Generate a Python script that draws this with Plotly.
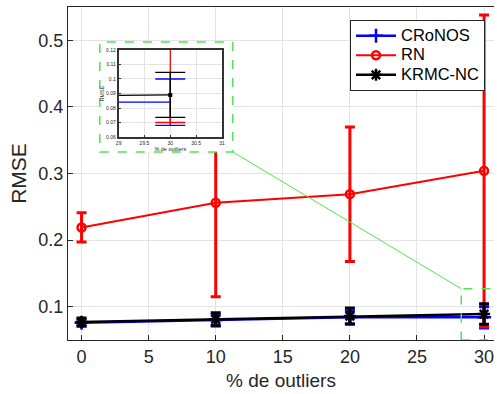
import plotly.graph_objects as go

# ---- data ----
outliers = [0, 10, 20, 30]
cronos = [0.076, 0.080, 0.084, 0.084]
cronos_err = [0.005, 0.008, 0.010, 0.016]
rn = [0.219, 0.256, 0.269, 0.304]
rn_err = [0.022, 0.141, 0.101, 0.234]
krmc = [0.077, 0.081, 0.086, 0.089]
krmc_err = [0.006, 0.010, 0.012, 0.0155]
names = ["CRoNOS", "RN", "KRMC-NC"]

x_ticks = [0, 5, 10, 15, 20, 25, 30]
y_ticks = [0.1, 0.2, 0.3, 0.4, 0.5]
inset_x_ticks = [29, 29.5, 30, 30.5, 31]
inset_y_ticks = [0.06, 0.07, 0.08, 0.09, 0.1, 0.11, 0.12]

# ---- style ----
X_RANGE = [-1.01, 30.74]
Y_RANGE = [0.05, 0.55]
INSET_X = [29, 31]
INSET_Y = [0.06, 0.12]
ZOOM_X = [28.3, 31.5]
ZOOM_Y = [0.05, 0.127]
BLUE, RED, BLACK = "#0000FF", "#FF0000", "#000000"
GREEN = "#4de64d"
FONT = "Liberation Sans, Arial, sans-serif"
TXT = "#262626"
GRID = "#e3e3e3"

COVER_DX = [0.0746, 0.3869]
COVER_DY = [0.5646, 0.8949]
INSET_DX = [0.1189, 0.3613]
INSET_DY = [0.6096, 0.8709]

fig = go.Figure()

series = [
    (names[0], cronos, cronos_err, BLUE, "cross-thin-open", 2.5, 10),
    (names[1], rn, rn_err, RED, "circle-open", 2, 8),
    (names[2], krmc, krmc_err, BLACK, "asterisk-open", 2.5, 10),
]

for name, y, e, c, sym, lw, ms in series:
    fig.add_trace(go.Scatter(
        x=outliers, y=y, name='<span style="font-size:16.5px">%s</span>' % name,
        mode="lines+markers",
        line=dict(color=c, width=lw),
        marker=dict(symbol=sym, size=ms, color=c, line=dict(color=c, width=2.5)),
        error_y=dict(type="data", array=e, visible=True, color=c, thickness=3, width=5),
        xaxis="x", yaxis="y",
    ))

# cover subplot (white area behind inset)
fig.add_trace(go.Scatter(x=[None], y=[None], xaxis="x2", yaxis="y2", showlegend=False, hoverinfo="skip"))

# inset traces
for name, y, e, c, sym, lw, ms in series:
    fig.add_trace(go.Scatter(
        x=outliers, y=y, name=name, mode="lines+markers", showlegend=False,
        line=dict(color=c, width=1.3),
        marker=dict(symbol="square" if c == BLACK else sym, size=4 if c == BLACK else 1, color=c),
        error_y=dict(type="data", array=e, visible=True, color=c, thickness=1.3, width=15),
        xaxis="x3", yaxis="y3", cliponaxis=True,
    ))

axis_common = dict(ticks="inside", tickcolor=TXT, showgrid=True, gridcolor=GRID, gridwidth=1,
                   zeroline=False, linecolor=TXT, showline=True)

fig.update_layout(
    width=497, height=394,
    margin=dict(l=68, r=0, t=7, b=54),
    paper_bgcolor="white", plot_bgcolor="white",
    font=dict(family=FONT, color=TXT, size=18),
    xaxis=dict(range=X_RANGE, tickvals=x_ticks, ticklen=5, mirror=True,
               title=dict(text="% de outliers", font=dict(size=19), standoff=8),
               tickfont=dict(size=18), **axis_common),
    yaxis=dict(range=Y_RANGE, tickvals=y_ticks, ticklen=5, mirror=False,
               title=dict(text="RMSE", font=dict(size=21), standoff=6),
               tickfont=dict(size=18), **axis_common),
    xaxis2=dict(domain=COVER_DX, anchor="y2", visible=False, range=[0, 1]),
    yaxis2=dict(domain=COVER_DY, anchor="x2", visible=False, range=[0, 1]),
    xaxis3=dict(domain=INSET_DX, anchor="y3", range=INSET_X, tickvals=inset_x_ticks,
                ticks="inside", ticklen=2, tickcolor="#333", showgrid=True, gridcolor=GRID,
                zeroline=False, showline=True, linecolor="#333", linewidth=1.8, mirror=True,
                tickfont=dict(size=5), title=dict(text="% de outliers", font=dict(size=5.5), standoff=1)),
    yaxis3=dict(domain=INSET_DY, anchor="x3", range=INSET_Y, tickvals=inset_y_ticks,
                ticks="inside", ticklen=2, tickcolor="#333", showgrid=True, gridcolor=GRID,
                zeroline=False, showline=True, linecolor="#333", linewidth=1.8, mirror=True,
                tickfont=dict(size=5), title=dict(text="RMSE", font=dict(size=5.5), standoff=1)),
    legend=dict(x=0.662, y=0.961, xanchor="left", yanchor="top",
                bgcolor="white", bordercolor="#262626", borderwidth=1,
                font=dict(size=12.7, color=BLACK), itemwidth=40, tracegroupgap=0),
    showlegend=True,
)

# zoom rectangle in main axes
fig.add_shape(type="rect", xref="x", yref="y", x0=ZOOM_X[0], x1=ZOOM_X[1], y0=ZOOM_Y[0], y1=ZOOM_Y[1],
              line=dict(color=GREEN, width=1.5, dash="dash"), layer="above")
# inset frame
fig.add_shape(type="rect", xref="paper", yref="paper", x0=COVER_DX[0], x1=COVER_DX[1], y0=COVER_DY[0], y1=COVER_DY[1],
              line=dict(color=GREEN, width=1.5, dash="dash"), layer="above")
# connector line
zx = (ZOOM_X[0] - X_RANGE[0]) / (X_RANGE[1] - X_RANGE[0])
zy = (ZOOM_Y[1] - Y_RANGE[0]) / (Y_RANGE[1] - Y_RANGE[0])
fig.add_shape(type="line", xref="paper", yref="paper", x0=COVER_DX[1], y0=COVER_DY[0], x1=zx, y1=zy,
              line=dict(color=GREEN, width=1), layer="above")

fig.write_html("out.html")
